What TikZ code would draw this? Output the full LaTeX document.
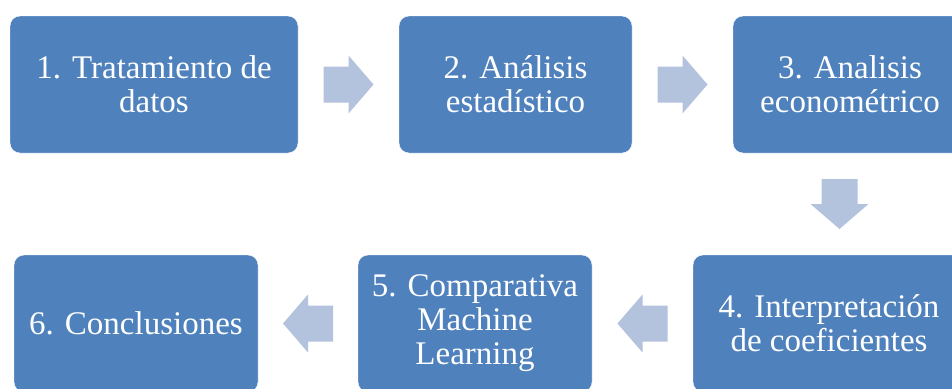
\documentclass[tikz,border=0pt]{standalone}
\usepackage{fontspec}
\setmainfont{Liberation Serif}
\usetikzlibrary{positioning, calc}

\definecolor{stepblue}{HTML}{4F81BD}
\definecolor{flowblue}{HTML}{B3C2DD}

\begin{document}
\begin{tikzpicture}[
    x=1pt, y=-1pt,
    % Process step: filled rounded rectangle
    stepbox/.style={
        rectangle, rounded corners=10pt, fill=stepblue, draw=white, thin,
        minimum height=137pt, inner sep=2pt, align=center,
        text=white, font=\fontsize{33}{34}\selectfont
    },
    % Block arrow between two steps (points east, centred at origin)
    flow/.pic={
        \fill[flowblue] (-25,-18) -- (0,-18) -- (0,-29) -- (25,0)
            -- (0,29) -- (0,18) -- (-25,18) -- cycle;
    },
]

\useasboundingbox (0,0) rectangle (952,388);
\clip (0,0) rectangle (952,388);

% ============================================================
% TOP ROW
% ============================================================
\node[stepbox, minimum width=288pt] (s1) at (154, 84.5)
    {1. Tratamiento de\\datos};
\node[stepbox, minimum width=233pt] (s2) at (515.5, 84.5)
    {2. Análisis\\estadístico};
\node[stepbox, minimum width=234pt] (s3) at (850, 84.5)
    {3. Analisis\\econométrico};

% ============================================================
% BOTTOM ROW
% ============================================================
\node[stepbox, minimum width=272pt] (s4) at (829, 323.5)
    {4. Interpretación\\de coeficientes};
\node[stepbox, minimum width=234pt] (s5) at (475, 323.5)
    {5. Comparativa\\Machine\\Learning};
\node[stepbox, minimum width=244pt] (s6) at (136, 323.5)
    {6. Conclusiones};

% ============================================================
% ARROWS
% ============================================================
\pic (a12) at ($(s1.east)!0.5!(s2.west)$) {flow};
\pic (a23) at ($(s2.east)!0.5!(s3.west)$) {flow};
\pic[rotate=-90] (a34) at ($(s3.south)!0.5!(s4.north)$) {flow};
\pic[rotate=180] (a45) at ($(s4.west)!0.5!(s5.east)$) {flow};
\pic[rotate=180] (a56) at ($(s5.west)!0.5!(s6.east)$) {flow};

\end{tikzpicture}
\end{document}
